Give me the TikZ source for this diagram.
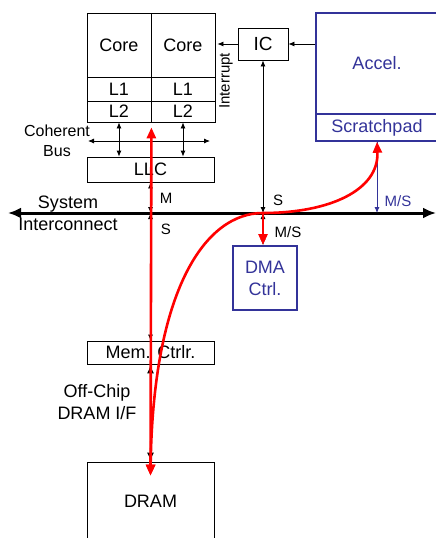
\documentclass[tikz,border=0pt]{standalone}
\usepackage{fontspec}
\setmainfont{Liberation Sans}
\usepackage{tikz}
\usetikzlibrary{arrows.meta, calc}
\definecolor{accblue}{RGB}{51,51,153}
\definecolor{flowred}{RGB}{255,0,0}

\begin{document}
\begin{tikzpicture}[
    x=1pt, y=-1pt,
    >={Latex[length=6pt, width=5pt]},
    blk/.style={draw, line width=0.8pt, inner sep=0pt, font=\fontsize{18}{21}\selectfont},
    accbox/.style={draw=accblue, text=accblue, line width=1.5pt, inner sep=0pt, align=center, font=\fontsize{18}{22}\selectfont},
    tag/.style={inner sep=0pt, font=\fontsize{15}{17}\selectfont},
    txt/.style={inner sep=0pt, align=center, font=\fontsize{18}{22}\selectfont},
    link/.style={line width=0.8pt},
    redflow/.style={draw=flowred, line width=2.6pt, {Triangle[length=11pt, width=9pt]}-{Triangle[length=11pt, width=9pt]}},
]
    \useasboundingbox (0,0) rectangle (436,538);
    \clip (0,0) rectangle (436,538);

    % Cores and private caches
    \node[blk, minimum width=64, minimum height=64] (core1) at (119,45) {Core};
    \node[blk, minimum width=64, minimum height=64] (core2) at (183,45) {Core};
    \node[blk, minimum width=64, minimum height=24] (l1a) at (119,89) {L1};
    \node[blk, minimum width=64, minimum height=24] (l1b) at (183,89) {L1};
    \node[blk, minimum width=64, minimum height=21] (l2a) at (119,111.5) {L2};
    \node[blk, minimum width=64, minimum height=21] (l2b) at (183,111.5) {L2};

    % Shared cache
    \node[blk, minimum width=127, minimum height=25] (llc) at (150.5,169.5) {LLC};

    % Interrupt controller
    \node[blk, minimum width=50, minimum height=32, font=\fontsize{19}{22}\selectfont] (ic) at (263,44) {IC};

    % Accelerator
    \node[accbox, minimum width=122, minimum height=101] (accel) at (377,63.5) {Accel.};
    \node[accbox, minimum width=122, minimum height=27] (scratch) at (377,127.5) {Scratchpad};

    % DMA
    \node[accbox, line width=2pt, minimum width=64, minimum height=64] (dma) at (265,278) {DMA\\Ctrl.};

    % Memory side
    \node[blk, minimum width=127, minimum height=23] (memctrl) at (150.5,352.5) {Mem. Ctrlr.};
    \node[blk, minimum width=127, minimum height=78] (dram) at (150.5,501) {DRAM};

    % System interconnect
    \coordinate (busL) at (8,213);
    \coordinate (busR) at (436,213);
    \draw[line width=3pt, {Latex[length=13pt, width=11pt]}-{Latex[length=13pt, width=11pt]}] (busL) -- (busR);
    \node[txt] (sysname) at (68,213.5) {System\\Interconnect};

    % Coherent bus
    \coordinate (cohL) at (88,141);
    \coordinate (cohR) at (210,141);
    \draw[link, <->] (cohL) -- (cohR);
    \draw[link, <->] (l2a.south) -- (l2a.south |- llc.north);
    \draw[link, <->] (l2b.south) -- (l2b.south |- llc.north);
    \node[txt, font=\fontsize{16}{20}\selectfont] (cohname) at (57,141) {Coherent\\Bus};

    % LLC <-> bus <-> memory controller
    \coordinate (llcbus) at (llc.south |- busL);
    \draw[link, <->] (llc.south) -- (llcbus);
    \draw[link, <->] (llcbus) -- (memctrl.north);
    \node[tag] (mtag) at (166,198) {M};
    \node[tag] (stag) at (166,229) {S};

    % Off-chip interface
    \draw[line width=1.8pt, {Latex[length=9pt, width=7pt]}-{Latex[length=9pt, width=7pt]}] (memctrl.south) -- (dram.north);
    \node[txt] (ifname) at (97,402) {Off-Chip\\DRAM I/F};

    % Interrupts
    \draw[link, ->] (ic.east -| accel.west) -- (ic.east);
    \draw[link, ->] (ic.west) -- ($(ic.west -| core2.east)+(2,0)$);
    \node[tag, rotate=90] (irq) at (226,81) {Interrupt};

    % IC and DMA on the bus
    \coordinate (icbus) at (ic.south |- busL);
    \draw[link, <->] (ic.south) -- (icbus);
    \draw[link, <->] (icbus) -- (icbus |- dma.north);
    \node[tag] (s2tag) at (278,200) {S};
    \node[tag] (mstag) at (288,232) {M/S};

    % Accelerator on the bus
    \draw[link, draw=accblue, ->] (scratch.south) -- (scratch.south |- busL);
    \node[tag, text=accblue] (ms2tag) at (398,201) {M/S};

    % Data paths
    \coordinate (dramtap) at ($(dram.north)+(0,14)$);
    \coordinate (l2tap) at ($(l2a.south east)+(0,5)$);
    \draw[redflow] (dramtap) -- (l2tap);
    \draw[redflow] (dramtap) .. controls (153,290) and (205,213) .. (icbus)
        .. controls (330,213) and (379,190) .. (scratch.south);
    \draw[redflow, -{Triangle[length=11pt, width=9pt]}] (icbus) -- (icbus |- dma.north);
\end{tikzpicture}
\end{document}
